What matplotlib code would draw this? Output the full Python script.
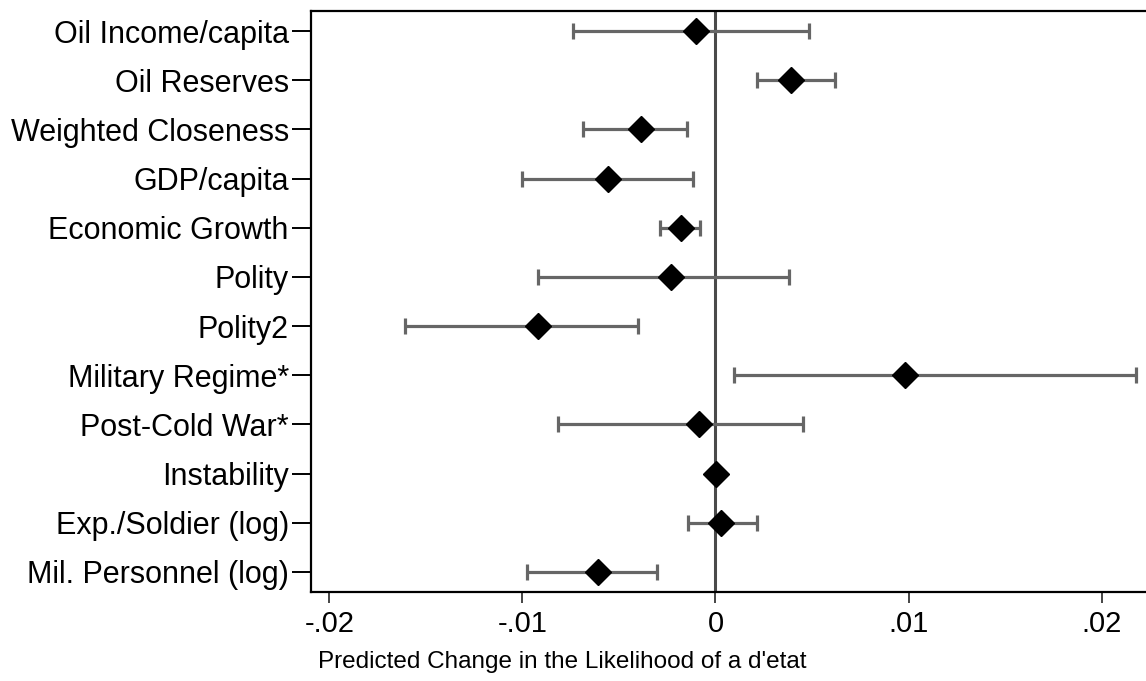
import matplotlib.pyplot as plt

plt.rcParams['font.family'] = ['Liberation Sans', 'DejaVu Sans']

# variables, top to bottom
labels = ['Oil Income/capita', 'Oil Reserves', 'Weighted Closeness', 'GDP/capita',
          'Economic Growth', 'Polity', 'Polity2', 'Military Regime*',
          'Post-Cold War*', 'Instability', 'Exp./Soldier (log)', 'Mil. Personnel (log)']
estimate = [-0.00103, 0.0039, -0.00384, -0.00555, -0.00179, -0.00228,
            -0.00919, 0.00981, -0.00084, 0.00003, 0.00028, -0.00607]
ci_low = [-0.00738, 0.00215, -0.00685, -0.01001, -0.00286, -0.0092,
          -0.01609, 0.00096, -0.00816, -0.00005, -0.00144, -0.00977]
ci_high = [0.00484, 0.0062, -0.00149, -0.00117, -0.00079, 0.00383,
           -0.00401, 0.02178, 0.00453, 0.00011, 0.00215, -0.00303]
xticks = [-0.02, -0.01, 0, 0.01, 0.02]
xticklabels = ['-.02', '-.01', '0', '.01', '.02']

fig = plt.figure(figsize=(11.46, 6.81), dpi=100)
ax = fig.add_axes([311 / 1146, 1 - 592 / 681, 1 - 311 / 1146, 581 / 681])

rows = list(range(1, len(labels) + 1))
err_lo = [e - l for e, l in zip(estimate, ci_low)]
err_hi = [h - e for e, h in zip(estimate, ci_high)]

ax.axvline(0, color='#4a4a4a', lw=2.2, zorder=1)
ax.errorbar(estimate, rows, xerr=[err_lo, err_hi], fmt='none', ecolor='#666666',
            elinewidth=2.3, capsize=6, capthick=2.3, zorder=2)
ax.plot(estimate, rows, 'D', color='black', markersize=13.5, zorder=3)

ax.set_xlim(-0.02095, 0.0223)
ax.set_ylim(12.41, 0.59)
ax.set_yticks(rows)
ax.set_yticklabels(labels, fontsize=22)
ax.set_xticks(xticks)
ax.set_xticklabels(xticklabels, fontsize=21)

ax.tick_params(axis='y', length=14, width=1.4, pad=2, color='black')
ax.tick_params(axis='x', length=8, width=1.4, pad=5, color='#444444')

for side in ['left', 'top', 'bottom']:
    ax.spines[side].set_linewidth(1.6)
ax.spines['right'].set_visible(False)

ax.set_xlabel("Predicted Change in the Likelihood of a d'etat", fontsize=17.5)
ax.xaxis.set_label_coords(0.3006, -0.101)

fig.savefig('out.png', dpi=100)
